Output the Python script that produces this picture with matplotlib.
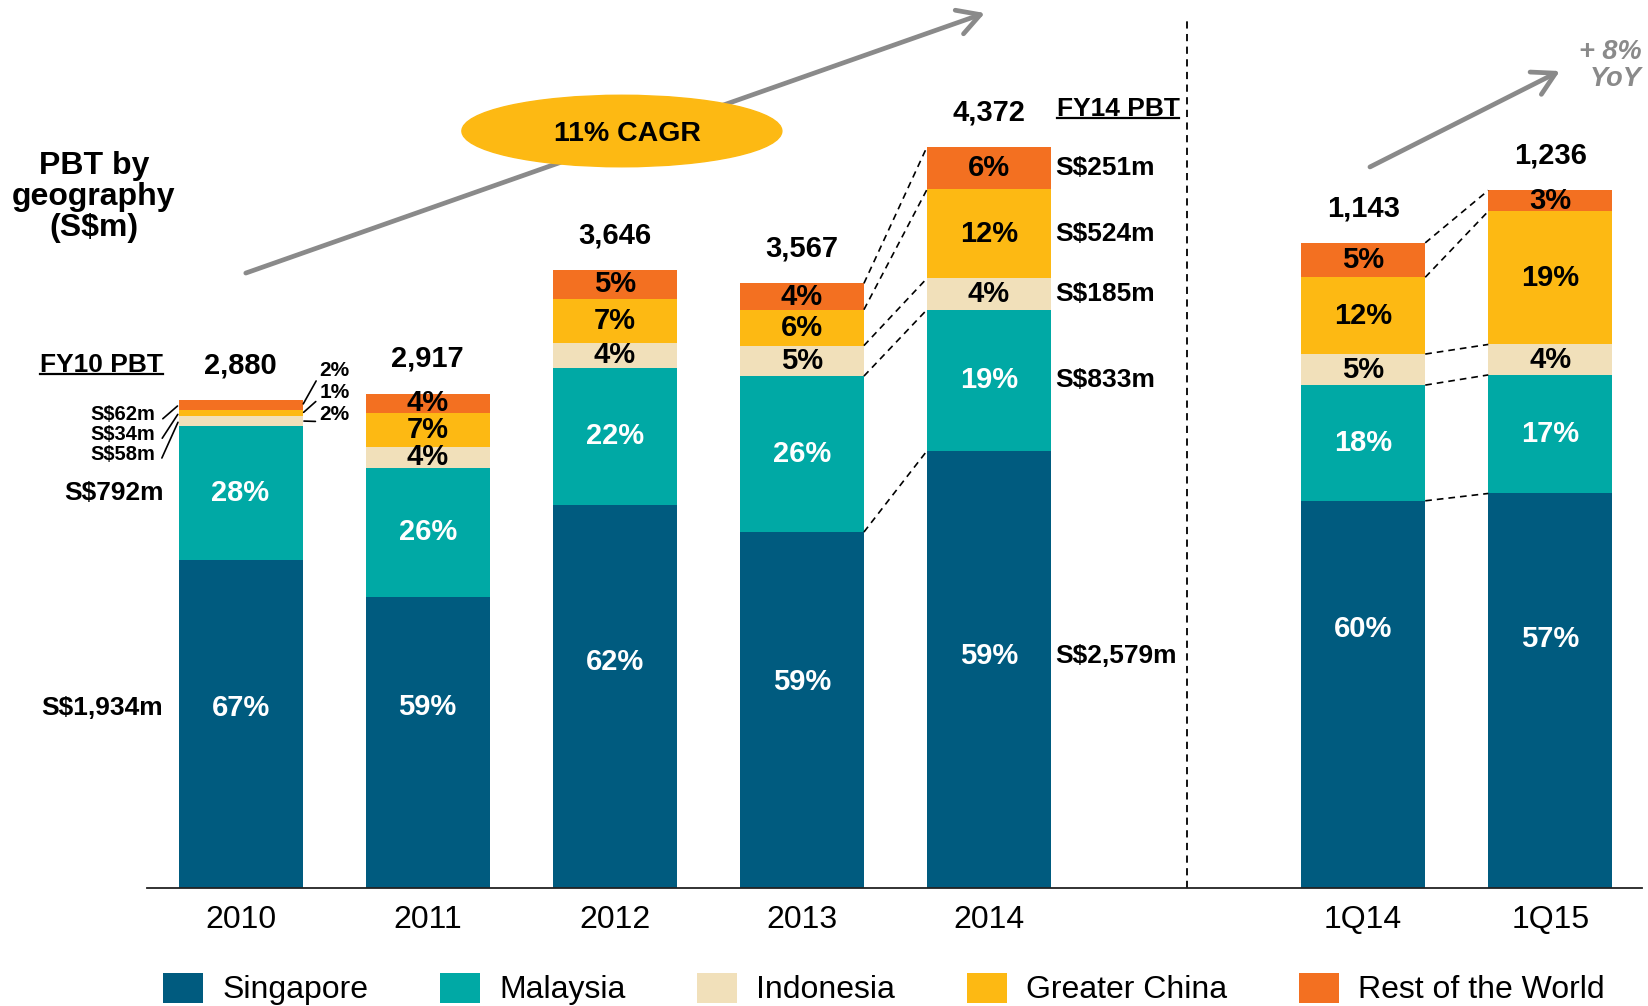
import matplotlib.pyplot as plt
from matplotlib.patches import Ellipse, Patch
from matplotlib.lines import Line2D
from matplotlib.transforms import offset_copy

plt.rcParams['font.family'] = ['Liberation Sans', 'DejaVu Sans']

# Chart data (S$m)
periods = ['2010', '2011', '2012', '2013', '2014', '1Q14', '1Q15']
x_pos = [0, 1, 2, 3, 4, 6, 7]
totals = [2880, 2917, 3646, 3567, 4372, 1143, 1236]
regions = ['Singapore', 'Malaysia', 'Indonesia', 'Greater China', 'Rest of the World']
colors = ['#005B7F', '#00A9A5', '#F1E0BA', '#FDB913', '#F37021']

singapore = [1934, 1718, 2262, 2100, 2579, 686, 699]
malaysia = [792, 762, 806, 920, 833, 205, 210]
indonesia = [58, 122, 150, 180, 185, 55, 54]
greater_china = [34, 200, 258, 212, 524, 136, 236]
rest_of_world = [62, 115, 170, 155, 251, 61, 37]

sg_pct = ['67%', '59%', '62%', '59%', '59%', '60%', '57%']
my_pct = ['28%', '26%', '22%', '26%', '19%', '18%', '17%']
id_pct = ['2%', '4%', '4%', '5%', '4%', '5%', '4%']
gc_pct = ['1%', '7%', '7%', '6%', '12%', '12%', '19%']
row_pct = ['2%', '4%', '5%', '4%', '6%', '5%', '3%']

series = [singapore, malaysia, indonesia, greater_china, rest_of_world]
pcts = [sg_pct, my_pct, id_pct, gc_pct, row_pct]

# quarterly bars are drawn on their own (larger) scale
quarter_scale = 3.33
scales = [1, 1, 1, 1, 1, quarter_scale, quarter_scale]

# where the Singapore % label sits inside its segment (fraction of height)
sg_label_frac = [0.55, 0.62, 0.59, 0.58, 0.53, 0.67, 0.63]

bar_w = 0.663
grey = '#8A8A8A'

fig = plt.figure(figsize=(16.48, 10.06), dpi=100)
ax = fig.add_axes([147 / 1648, 118 / 1006, 1495 / 1648, 888 / 1006])
ax.set_xlim(-0.5, 7.49)
ax.set_ylim(0, 5239)
for s in ['top', 'left', 'right']:
    ax.spines[s].set_visible(False)
ax.spines['bottom'].set_color('#222222')
ax.spines['bottom'].set_linewidth(1.3)
ax.set_yticks([])
ax.set_xticks(x_pos, periods)
ax.tick_params(axis='x', length=0, pad=12, labelsize=23)

# stacked bars + labels
tops = []       # cumulative boundaries per bar
label_y = []    # y of inner labels per bar
for i, x in enumerate(x_pos):
    sc = scales[i]
    bottom = 0
    bounds = []
    ys = []
    for j, vals in enumerate(series):
        h = vals[i] * sc
        ax.bar(x, h, width=bar_w, bottom=bottom, color=colors[j], linewidth=0, zorder=2)
        frac = sg_label_frac[i] if j == 0 else 0.5
        y = bottom + h * frac
        ys.append(y)
        if not (i == 0 and j >= 2):
            ax.text(x, y, pcts[j][i], ha='center', va='center', fontsize=21, fontweight='bold',
                    color='white' if j < 2 else 'black', zorder=4)
        bottom += h
        bounds.append(bottom)
    tops.append(bounds)
    label_y.append(ys)
    ax.annotate(f'{totals[i]:,}', xy=(x, totals[i] * sc), xytext=(0, 25), textcoords='offset points',
                ha='center', va='center', fontsize=21, fontweight='bold')

# dashed connectors between bar pairs
for a, b in [(3, 4), (5, 6)]:
    for ya, yb in zip(tops[a], tops[b]):
        ax.plot([x_pos[a] + bar_w / 2, x_pos[b] - bar_w / 2], [ya, yb], color='black',
                lw=1.2, ls=(0, (4, 3)), zorder=3)

# separator between annual and quarterly
ax.axvline(5.06, ymax=5115 / 5239, color='black', lw=1.3, ls=(0, (4, 3)))

# 2014 side labels
x14 = x_pos[4] + bar_w / 2
for j in range(5):
    ax.annotate(f'S${series[j][4]:,}m', xy=(x14, label_y[4][j]), xytext=(3, 0),
                textcoords='offset points', ha='left', va='center', fontsize=19, fontweight='bold')
fy14 = ax.annotate('FY14 PBT', xy=(x14, totals[4]), xytext=(4, 27), textcoords='offset points',
                   ha='left', va='center', fontsize=19, fontweight='bold')

# 2010 side labels
x10 = x_pos[0] - bar_w / 2
for j in range(2):
    ax.annotate(f'S${series[j][0]:,}m', xy=(x10, label_y[0][j]), xytext=(-11, 0),
                textcoords='offset points', ha='right', va='center', fontsize=19, fontweight='bold')
fy10 = ax.annotate('FY10 PBT', xy=(x10, totals[0]), xytext=(-11, 25), textcoords='offset points',
                   ha='right', va='center', fontsize=19, fontweight='bold')

# small 2010 segments with leader lines
seg_lo = [0] + tops[0]
for k, j in enumerate([4, 3, 2]):
    mid = (seg_lo[j] + seg_lo[j + 1]) / 2
    left_tr = offset_copy(ax.transData, fig=fig, x=-23, y=-(15 + 20 * k), units='dots')
    ax.annotate(f'S${series[j][0]:,}m', xy=(x10, mid), xytext=(x10, totals[0]), textcoords=left_tr,
                ha='right', va='center', fontsize=14.5, fontweight='bold',
                arrowprops=dict(arrowstyle='-', color='black', lw=1.2, relpos=(1.08, 0.2),
                                shrinkA=2, shrinkB=1))
    right_tr = offset_copy(ax.transData, fig=fig, x=17, y=29 - 22 * k, units='dots')
    ax.annotate(pcts[j][0], xy=(x_pos[0] + bar_w / 2, mid), xytext=(x_pos[0] + bar_w / 2, totals[0]),
                textcoords=right_tr, ha='left', va='center', fontsize=15, fontweight='bold',
                arrowprops=dict(arrowstyle='-', color='black', lw=1.2, relpos=(-0.05, 0.15),
                                shrinkA=1, shrinkB=1))

# growth arrows
ax.annotate('', xy=(3.978, 5162), xytext=(0.028, 3628),
            arrowprops=dict(arrowstyle='->, head_length=0.8, head_width=0.45', lw=3.4, color=grey,
                            mutation_scale=20, shrinkA=0, shrinkB=0), zorder=1)
ax.add_patch(Ellipse((2.038, 4466), width=1.71, height=422, color='#FDB913', zorder=3))
ax.text(2.07, 4450, '11% CAGR', ha='center', va='center', fontsize=20.5, fontweight='bold', zorder=4)

ax.annotate('', xy=(7.051, 4820), xytext=(6.036, 4254),
            arrowprops=dict(arrowstyle='->, head_length=0.8, head_width=0.45', lw=3.4, color=grey,
                            mutation_scale=20, shrinkA=0, shrinkB=0))
ax.text(7.49, 4850, '+ 8%\nYoY', ha='right', va='center', fontsize=19.5, fontweight='bold',
        fontstyle='italic', color=grey, linespacing=1.05)

ax.text(-0.784, 4077, 'PBT by\ngeography\n(S$m)', ha='center', va='center', fontsize=23,
        fontweight='bold', linespacing=1.05)

# legend
handles = [Patch(facecolor=c, linewidth=0) for c in colors]
ax.legend(handles, regions, ncol=5, loc='center left', bbox_to_anchor=(163 / 1648, 1 - 989 / 1006),
          bbox_transform=fig.transFigure, frameon=False, fontsize=23, handlelength=1.25,
          handleheight=1.07, handletextpad=0.6, columnspacing=2.25, borderpad=0, borderaxespad=0)

# underline the FY labels
fig.canvas.draw()
renderer = fig.canvas.get_renderer()
for t in [fy10, fy14]:
    bb = t.get_window_extent(renderer).transformed(fig.transFigure.inverted())
    y = bb.y0 + 3.5 / 1006
    fig.add_artist(Line2D([bb.x0, bb.x1], [y, y], transform=fig.transFigure, color='black', lw=1.6))

fig.savefig('out.png', dpi=100)
